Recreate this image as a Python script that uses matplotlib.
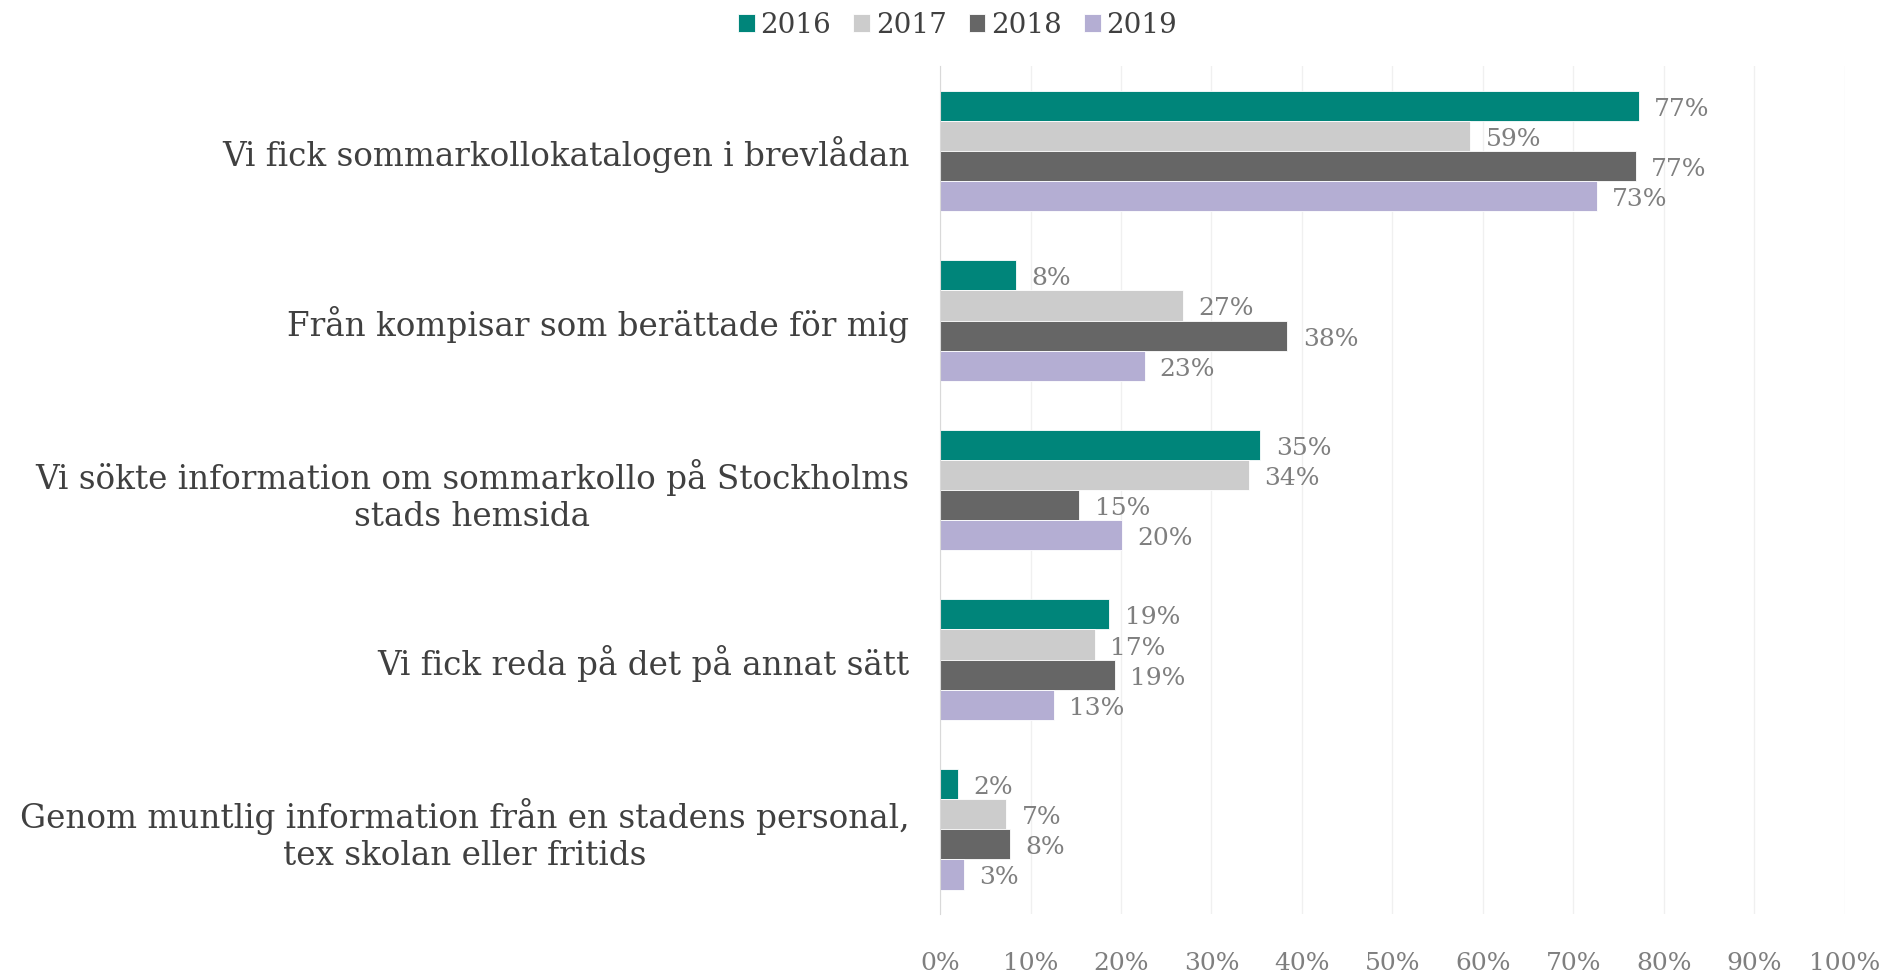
import numpy as np
import matplotlib.pyplot as plt
from matplotlib.ticker import FuncFormatter


#### Data

CATEGORIES = [
    'Vi fick sommarkollokatalogen i brevlådan',
    'Från kompisar som berättade för mig',
    'Vi sökte information om sommarkollo på Stockholms\nstads hemsida',
    'Vi fick reda på det på annat sätt',
    'Genom muntlig information från en stadens personal,\ntex skolan eller fritids',
]
YEARS = ['2016', '2017', '2018', '2019']
VALUES_2016 = [77.2, 8.4, 35.4, 18.7, 2.0]
VALUES_2017 = [58.6, 26.8, 34.1, 17.1, 7.3]
VALUES_2018 = [76.9, 38.4, 15.4, 19.3, 7.7]
VALUES_2019 = [72.6, 22.6, 20.1, 12.6, 2.6]
TICKS = [0, 10, 20, 30, 40, 50, 60, 70, 80, 90, 100]

COLORS = ['#00857a', '#cccccc', '#666666', '#b4aed3']
FONT = 'DejaVu Serif'


def main():
    plt.rcParams['font.family'] = FONT
    fig = plt.figure(figsize=(18.85, 9.73), dpi=100)
    ax = fig.add_axes([0.4987, 0.0606, 0.48, 0.8714])

    series = [VALUES_2016, VALUES_2017, VALUES_2018, VALUES_2019]
    n_groups = len(CATEGORIES)
    y_base = np.arange(n_groups)
    bar_h = 0.178
    for i, (vals, year, color) in enumerate(zip(series, YEARS, COLORS)):
        y = y_base + (i - 1.5) * bar_h
        ax.barh(y, vals, height=bar_h, color=color, label=year,
                edgecolor='white', linewidth=0.6)
        for yy, v in zip(y, vals):
            ax.annotate(f'{round(v)}%', (v, yy), xytext=(11, -2.5),
                        textcoords='offset points', va='center', ha='left',
                        fontsize=18, color='#7f7f7f')

    ax.set_ylim(n_groups - 0.5, -0.5)
    ax.set_xlim(0, 100)
    ax.set_xticks(TICKS)
    ax.xaxis.set_major_formatter(FuncFormatter(lambda x, _: f'{int(x)}%'))
    ax.tick_params(axis='x', length=0, pad=27, labelsize=18, labelcolor='#7f7f7f')
    ax.set_yticks(y_base)
    ax.set_yticklabels(CATEGORIES, fontsize=23.5, color='#404040')
    ax.tick_params(axis='y', length=0, pad=22)
    for lbl in ax.get_yticklabels():
        lbl.set_multialignment('center')

    ax.grid(axis='x', color='#f0f0f0', linewidth=1)
    ax.set_axisbelow(True)
    for side in ['top', 'right', 'bottom']:
        ax.spines[side].set_visible(False)
    ax.spines['left'].set_color('#d9d9d9')

    fig.legend(loc='center', bbox_to_anchor=(0.508, 0.974), ncol=4, frameon=False,
               fontsize=20, handlelength=0.6, handleheight=0.6, handletextpad=0.2,
               columnspacing=0.8, labelcolor='#404040')

    fig.savefig('out.png', dpi=100, facecolor='white')


if __name__ == "__main__":
    main()
